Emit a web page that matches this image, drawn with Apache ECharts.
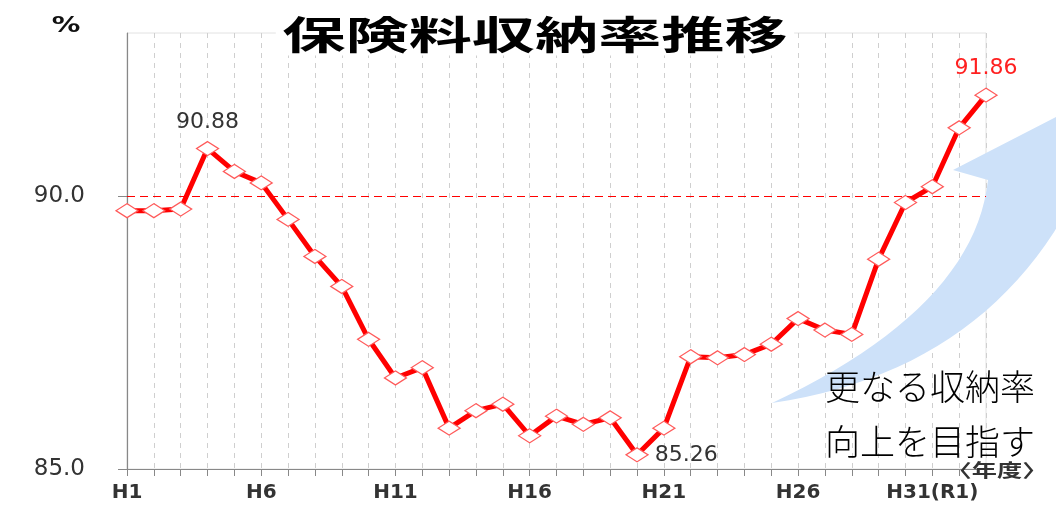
<!DOCTYPE html>
<html>
<head>
<meta charset="utf-8">
<script src="https://cdn.jsdelivr.net/npm/echarts@6/dist/echarts.min.js"></script>
<style>
html,body{margin:0;padding:0;background:#fff;}
#chart{width:1056px;height:518px;}
</style>
</head>
<body>
<div id="chart"></div>
<script>
const categories = ['H1','H2','H3','H4','H5','H6','H7','H8','H9','H10','H11','H12','H13','H14','H15','H16','H17','H18','H19','H20','H21','H22','H23','H24','H25','H26','H27','H28','H29','H30','H31(R1)','R2','R3'];
const rates = [89.74, 89.74, 89.77, 90.88, 90.46, 90.25, 89.58, 88.90, 88.35, 87.38, 86.67, 86.86, 85.75, 86.07, 86.19, 85.61, 85.97, 85.82, 85.94, 85.26, 85.75, 87.06, 87.04, 87.10, 87.29, 87.76, 87.55, 87.47, 88.85, 89.89, 90.18, 91.26, 91.86];
const labeledPoints = ['H4', 'H20', 'R3'];
const yTicks = [85, 90];
const referenceLevel = 90;
const titleText = '保険料収納率推移';
const noteLines = ['更なる収納率', '向上を目指す'];
const unitText = '%';
const yearText = '〈年度〉';

const labelStyles = {
  'H4':  { position: 'top', distance: 8, color: '#333' },
  'H20': { position: 'right', distance: 6, color: '#333' },
  'R3':  { position: 'top', distance: 8, color: '#ff2020' }
};

const seriesData = rates.map((v, i) => {
  const c = categories[i];
  if (labeledPoints.includes(c)) {
    const s = labelStyles[c];
    return {
      value: v,
      label: {
        show: true, position: s.position, distance: s.distance,
        color: s.color, fontFamily: 'DejaVu Sans', fontSize: 22,
        formatter: (p) => Number(p.value).toFixed(2)
      }
    };
  }
  return v;
});

// decorative curved arrow outline (quadratic curves sampled into a polygon)
function quad(p0, c, p2, n) {
  const pts = [];
  for (let k = 0; k <= n; k++) {
    const t = k / n, u = 1 - t;
    pts.push([u*u*p0[0] + 2*u*t*c[0] + t*t*p2[0], u*u*p0[1] + 2*u*t*c[1] + t*t*p2[1]]);
  }
  return pts;
}
const arrowPts = [].concat(
  quad([772, 403], [974, 308], [988, 180], 24),
  [[953, 170], [1085, 102], [1085, 200]],
  quad([1070, 205], [979, 372], [772, 403], 24)
);

const chart = echarts.init(document.getElementById('chart'), null, { renderer: 'canvas' });
chart.setOption({
  animation: false,
  backgroundColor: '#fff',
  grid: { left: 127, right: 70, top: 33, bottom: 49, show: true, borderColor: '#e2e2e2', borderWidth: 1 },
  xAxis: {
    type: 'category',
    data: categories,
    boundaryGap: false,
    axisLine: { lineStyle: { color: '#888', width: 1.2 } },
    axisTick: { show: true, interval: 0, length: 7, lineStyle: { color: '#888' } },
    axisLabel: { interval: 4, margin: 14, color: '#333', fontFamily: 'DejaVu Sans', fontWeight: 'bold', fontSize: 20 },
    splitLine: { show: true, interval: 0, lineStyle: { color: '#cfcfcf', type: [5, 5], width: 1 } }
  },
  yAxis: {
    type: 'value',
    min: 85, max: 93, interval: 5,
    axisLine: { show: true, lineStyle: { color: '#888', width: 1.2 } },
    axisTick: { show: true, length: 9, customValues: yTicks, lineStyle: { color: '#888' } },
    axisLabel: { customValues: yTicks, margin: 42, color: '#333', fontFamily: 'DejaVu Sans', fontSize: 23, formatter: (v) => Number(v).toFixed(1) },
    splitLine: { show: false }
  },
  series: [{
    type: 'line',
    data: seriesData,
    z: 3,
    symbol: 'diamond',
    symbolSize: [22, 14],
    showAllSymbol: true,
    lineStyle: { color: '#ff0000', width: 5 },
    itemStyle: { color: '#ffffff', borderColor: '#ff5a5a', borderWidth: 1.3 },
    emphasis: { disabled: true },
    markLine: {
      silent: true,
      symbol: 'none',
      label: { show: false },
      lineStyle: { color: '#ff0000', type: [8, 5], width: 1 },
      data: [{ yAxis: referenceLevel }]
    }
  }],
  graphic: [
    {
      type: 'polygon', z: 1,
      shape: { points: arrowPts },
      style: { fill: '#cde1f9' }
    },
    {
      type: 'text', z: 5, x: 535, y: 34, scaleX: 1.62,
      style: {
        text: titleText, fill: '#000',
        font: 'bold 39px "Noto Sans CJK JP"',
        textAlign: 'center', align: 'center', textVerticalAlign: 'middle', verticalAlign: 'middle',
        backgroundColor: '#fff', padding: [2, 4]
      }
    },
    {
      type: 'text', z: 5, x: 66, y: 26, scaleX: 1.3,
      style: { text: unitText, fill: '#111', font: 'bold 22px "DejaVu Sans"', textAlign: 'center', align: 'center', textVerticalAlign: 'middle', verticalAlign: 'middle' }
    },
    {
      type: 'text', z: 5, x: 930, y: 387,
      style: { text: noteLines[0], fill: '#000', font: '300 35px "Noto Sans CJK JP"', textAlign: 'center', align: 'center', textVerticalAlign: 'middle', verticalAlign: 'middle' }
    },
    {
      type: 'text', z: 5, x: 930, y: 442,
      style: { text: noteLines[1], fill: '#000', font: '300 35px "Noto Sans CJK JP"', textAlign: 'center', align: 'center', textVerticalAlign: 'middle', verticalAlign: 'middle' }
    },
    {
      type: 'text', z: 5, x: 997, y: 470, scaleX: 1.4,
      style: { text: yearText, fill: '#333', font: 'bold 18px "Noto Sans CJK JP"', textAlign: 'center', align: 'center', textVerticalAlign: 'middle', verticalAlign: 'middle' }
    }
  ]
});
</script>
</body>
</html>
